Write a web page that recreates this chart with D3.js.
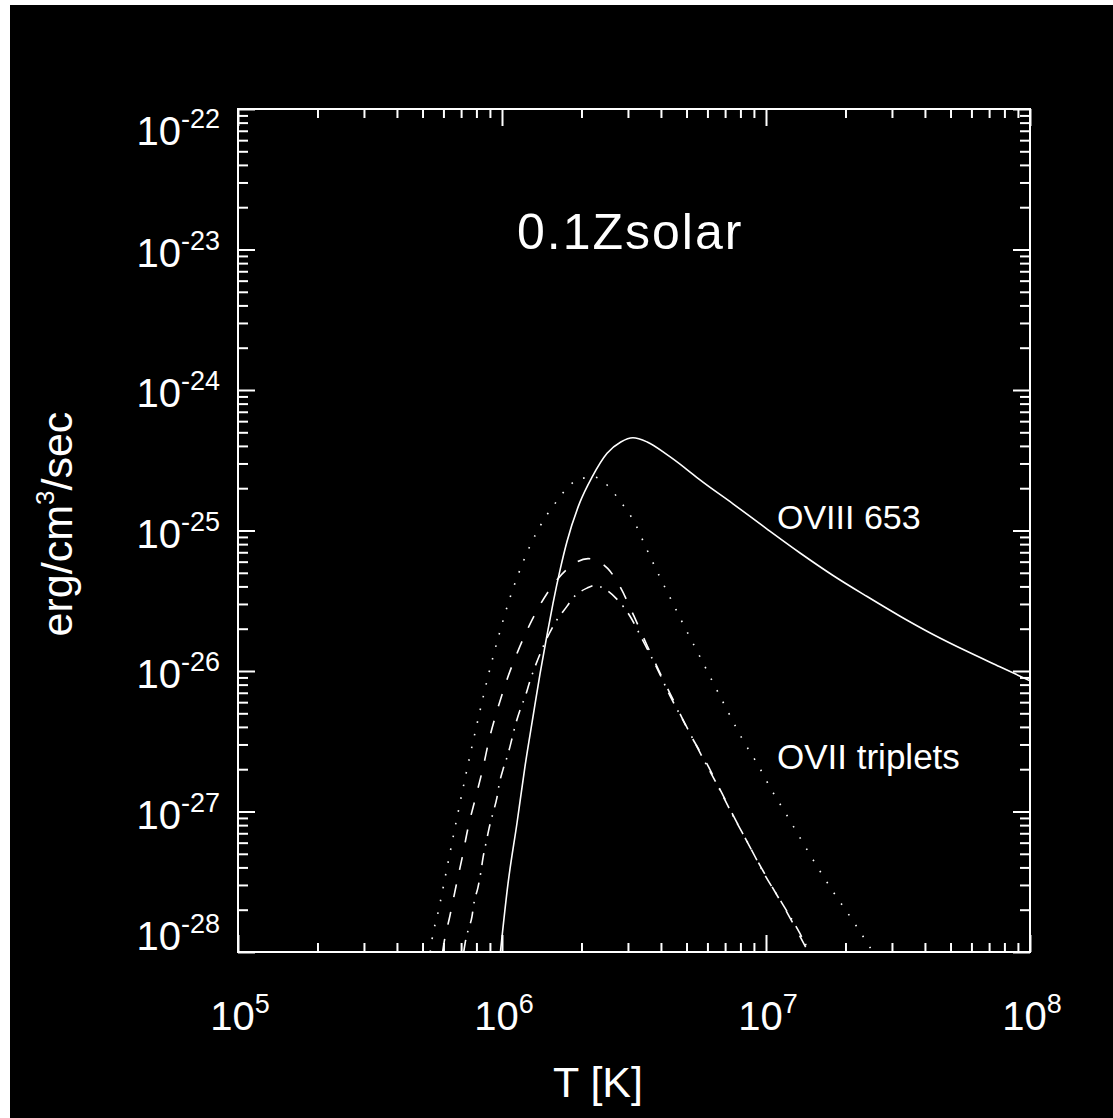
<!DOCTYPE html>
<html>
<head>
<meta charset="utf-8">
<script src="https://cdn.jsdelivr.net/npm/d3@7"></script>
<style>
  html, body { margin: 0; padding: 0; background: #fff; }
  svg { display: block; }
  text { font-family: "Liberation Sans", Arial, sans-serif; fill: #fff; }
</style>
</head>
<body>
<svg id="chart" width="1113" height="1118"></svg>
<script>
// emission curves as [log10 T, log10 emissivity]
var oviii653 = [
  [5.994,-28.0],[6.023,-27.51],[6.057,-27.08],[6.087,-26.68],[6.117,-26.33],
  [6.144,-26.02],[6.17,-25.75],[6.193,-25.52],[6.22,-25.28],[6.246,-25.08],
  [6.295,-24.80],[6.341,-24.62],[6.398,-24.45],[6.45,-24.37],[6.496,-24.34],
  [6.55,-24.37],[6.625,-24.46],[6.69,-24.55],[6.75,-24.64],[6.875,-24.81],
  [7.004,-24.99],[7.129,-25.16],[7.254,-25.32],[7.383,-25.47],[7.508,-25.61],
  [7.633,-25.74],[7.761,-25.86],[7.886,-25.97],[8.0,-26.07]
];
var oviiDotted = [
  [5.728,-28.0],[5.735,-27.91],[5.76,-27.70],[5.795,-27.37],[5.83,-27.04],
  [5.864,-26.73],[5.905,-26.38],[5.947,-26.04],[5.989,-25.74],[6.03,-25.48],
  [6.064,-25.30],[6.106,-25.11],[6.15,-24.95],[6.216,-24.77],[6.25,-24.69],
  [6.30,-24.63],[6.35,-24.62],[6.40,-24.68],[6.443,-24.78],[6.504,-24.95],
  [6.545,-25.12],[6.595,-25.32],[6.64,-25.49],[6.69,-25.68],[6.742,-25.87],
  [6.807,-26.11],[6.856,-26.29],[6.909,-26.48],[6.97,-26.67],[7.019,-26.84],
  [7.08,-27.03],[7.136,-27.21],[7.19,-27.38],[7.254,-27.57],[7.33,-27.78],
  [7.405,-28.0]
];
var oviiDashed = [
  [5.775,-28.0],[5.78,-27.94],[5.803,-27.74],[5.826,-27.53],[5.85,-27.32],
  [5.871,-27.12],[5.90,-26.90],[5.928,-26.69],[5.951,-26.49],[5.985,-26.26],
  [6.019,-26.06],[6.06,-25.86],[6.113,-25.64],[6.17,-25.45],[6.25,-25.27],
  [6.326,-25.20],[6.40,-25.27],[6.447,-25.40],[6.50,-25.61],[6.55,-25.82],
  [6.60,-26.02],[6.655,-26.23],[6.71,-26.44],[6.776,-26.66],[6.833,-26.87],
  [6.89,-27.08],[6.95,-27.29],[7.015,-27.51],[7.083,-27.73],[7.16,-28.0]
];
var oviiDashDot = [
  [5.855,-28.0],[5.86,-27.94],[5.871,-27.85],[5.886,-27.75],[5.894,-27.65],
  [5.909,-27.54],[5.92,-27.43],[5.928,-27.33],[5.94,-27.22],[5.951,-27.12],
  [5.966,-27.01],[5.981,-26.90],[5.989,-26.81],[6.004,-26.70],[6.023,-26.59],
  [6.038,-26.48],[6.05,-26.39],[6.068,-26.28],[6.09,-26.17],[6.106,-26.07],
  [6.125,-25.97],[6.155,-25.83],[6.20,-25.66],[6.246,-25.54],[6.269,-25.48],
  [6.322,-25.41],[6.352,-25.39],[6.383,-25.41],[6.436,-25.49],[6.485,-25.61],
  [6.53,-25.77],[6.587,-25.98],[6.64,-26.19],[6.70,-26.40],[6.758,-26.61],
  [6.818,-26.82],[6.875,-27.03],[6.936,-27.24],[6.992,-27.44],[7.06,-27.65],
  [7.129,-27.87],[7.165,-28.0]
];

var xDecades = [5, 6, 7, 8];
var yDecades = [-22, -23, -24, -25, -26, -27, -28];

var svg = d3.select("#chart");
var L = 238, R = 1030, T = 109, B = 952;

svg.append("rect").attr("x", 10).attr("y", 5)
   .attr("width", 1103).attr("height", 1113).attr("fill", "#000");

var x = d3.scaleLog().domain([1e5, 1e8]).range([L, R]);
var y = d3.scaleLog().domain([1e-28, 1e-22]).range([B, T]);

// major + minor tick values
var xMajor = xDecades.map(function(d) {return Math.pow(10, d);});
var yMajor = yDecades.map(function(d) {return Math.pow(10, d);});
var xMinor = [], yMinor = [];
xDecades.slice(0, -1).forEach(function(d) {
    for (var k = 2; k < 10; k++) xMinor.push(k * Math.pow(10, d));
});
yDecades.slice(1).forEach(function(d) {
    for (var k = 2; k < 10; k++) yMinor.push(k * Math.pow(10, d));
});

function tickAxis(axisFn, scale, vals, len, tx, ty) {
    var g = svg.append("g").attr("transform", "translate(" + tx + "," + ty + ")")
        .call(axisFn(scale).tickValues(vals).tickSize(len).tickSizeOuter(0).tickFormat(""));
    g.select(".domain").remove();
    g.selectAll(".tick line").attr("stroke", "#fff").attr("stroke-width", 2);
}
// ticks point into the plot on all four sides
tickAxis(d3.axisLeft, y, yMajor, -17, L, 0);
tickAxis(d3.axisLeft, y, yMinor, -10, L, 0);
tickAxis(d3.axisRight, y, yMajor, -17, R, 0);
tickAxis(d3.axisRight, y, yMinor, -10, R, 0);
tickAxis(d3.axisBottom, x, xMajor, -17, 0, B);
tickAxis(d3.axisBottom, x, xMinor, -9, 0, B);
tickAxis(d3.axisTop, x, xMajor, -17, 0, T);
tickAxis(d3.axisTop, x, xMinor, -9, 0, T);

svg.append("rect").attr("x", L).attr("y", T)
   .attr("width", R - L).attr("height", B - T)
   .attr("fill", "none").attr("stroke", "#fff").attr("stroke-width", 2);

// tick labels 10^n
function powLabel(sel, exp) {
    sel.append("tspan").attr("font-size", 40).text("10");
    sel.append("tspan").attr("font-size", 27).attr("dy", -17).text(exp);
}
yDecades.forEach(function(d) {
    var base = y(Math.pow(10, d)) + 17;
    base = Math.min(Math.max(base, T + 36), B - 2);
    svg.append("text").attr("x", 220).attr("y", base)
       .attr("text-anchor", "end").call(powLabel, String(d));
});
xDecades.forEach(function(d) {
    svg.append("text").attr("x", x(Math.pow(10, d)) + 2).attr("y", 1030)
       .attr("text-anchor", "middle").call(powLabel, String(d));
});

// axis titles
var yt = svg.append("text").attr("transform", "translate(72,524) rotate(-90)")
    .attr("text-anchor", "middle").attr("font-size", 43);
yt.append("tspan").text("erg/cm");
yt.append("tspan").attr("font-size", 26).attr("dy", -18).text("3");
yt.append("tspan").attr("dy", 18).text("/sec");

svg.append("text").attr("x", 598).attr("y", 1097).attr("text-anchor", "middle")
   .attr("font-size", 43).text("T [K]");

// curves
svg.append("clipPath").attr("id", "plotclip").append("rect")
   .attr("x", L).attr("y", T).attr("width", R - L).attr("height", B - T);

var line = d3.line()
    .x(function(d) {return x(Math.pow(10, d[0]));})
    .y(function(d) {return y(Math.pow(10, d[1]));})
    .curve(d3.curveMonotoneX);

var series = [
    {data: oviii653,    dash: null},
    {data: oviiDotted,  dash: "1.6,11.4"},
    {data: oviiDashed,  dash: "13,15"},
    {data: oviiDashDot, dash: "12,8,1.6,8"}
];
svg.append("g").attr("clip-path", "url(#plotclip)")
   .selectAll("path").data(series).enter().append("path")
   .attr("d", function(d) {return line(d.data);})
   .attr("fill", "none")
   .attr("stroke", "#fff")
   .attr("stroke-width", 1.6)
   .attr("stroke-dasharray", function(d) {return d.dash;});

// in-plot labels
svg.append("text").attr("x", 517).attr("y", 249).attr("font-size", 50)
   .attr("letter-spacing", 2).text("0.1Zsolar");
svg.append("text").attr("x", 777).attr("y", 529).attr("font-size", 34)
   .text("OVIII 653");
svg.append("text").attr("x", 777).attr("y", 769).attr("font-size", 35)
   .text("OVII triplets");
</script>
</body>
</html>
